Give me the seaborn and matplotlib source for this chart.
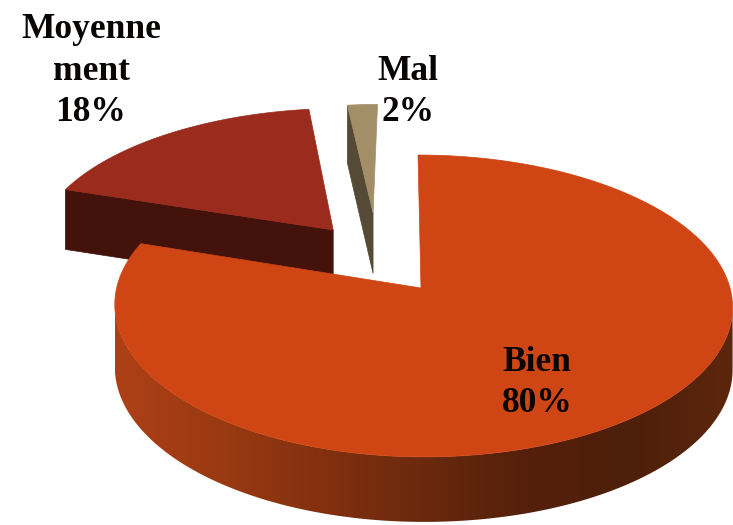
import numpy as np
import matplotlib
matplotlib.use('Agg')
import matplotlib.pyplot as plt
from matplotlib.patches import Polygon
import seaborn as sns

# values
labels = ['Bien', 'Moyenne\nment', 'Mal']
values = [80, 18, 2]

# look of the slices
top_colors = ['#CF4513', '#9B2B1C', '#A28F68']
wall_colors = [None, '#43120A', '#544A36']
side_stops = ['#AE4016', '#9A3A12', '#83300F', '#6A290D', '#54200B', '#4E1F0A', '#5C260C']

# 3d look, offsets are on the unit disc
cx, cy = 421, 288
rx, ry = 309, 148.8
persp = 0.119
offsets = [(0, 0), (-0.298, 0.409), (-0.165, 0.536)]
radii = [1, 1, 0.91]
label_pos = [(537, 383), (91, 71), (408, 92)]

sns.set_theme(style='white')
plt.rcParams['font.family'] = ['Liberation Serif', 'DejaVu Serif']


def project(u, v, low=False, big=False):
    s = 1 + persp * v
    if big:
        # the big slice leans a little and is narrower on the left
        u = np.where(u < 0, u * 0.985, u)
    x = cx + rx * u / s
    if big:
        x = x - 3 * v
    y = cy - ry * v / s
    if low:
        y = y + 62 - 3 * v
    return x, y


def disc_point(angle, i):
    return offsets[i][0] + radii[i] * np.sin(angle), offsets[i][1] + radii[i] * np.cos(angle)


fig = plt.figure(figsize=(7.33, 5.25), dpi=100)
ax = fig.add_axes([0, 0, 1, 1])

edges = np.radians(np.cumsum([0] + values) / sum(values) * 360)

# back slices first, the wall is the radial side that faces the viewer
for i in [2, 1]:
    u0, v0 = offsets[i]
    u1, v1 = disc_point(edges[i], i)
    top_a = project(u0, v0)
    top_b = project(u1, v1)
    low_a = project(u0, v0, low=True)
    low_b = project(u1, v1, low=True)
    ax.fill([top_a[0], top_b[0], low_b[0], low_a[0]],
            [top_a[1], top_b[1], low_b[1], low_a[1]],
            color=wall_colors[i], lw=0.5)
    t = np.linspace(edges[i], edges[i + 1], 60)
    u, v = disc_point(t, i)
    x, y = project(np.r_[u0, u], np.r_[v0, v])
    ax.fill(x, y, color=top_colors[i], lw=0.5)

# round side of the big slice, shaded left to right
# only the arc between the widest points, else the band crosses itself
t = np.linspace(np.radians(60), edges[1], 400)
u, v = disc_point(t, 0)
xt, yt = project(u, v, big=True)
first, last = xt.argmax(), xt.argmin()
xt, yt = xt[first:last + 1], yt[first:last + 1]
xb, yb = project(u[first:last + 1], v[first:last + 1], low=True, big=True)
side = Polygon(np.c_[np.r_[xt, xb[::-1]], np.r_[yt, yb[::-1]]], closed=True,
               transform=ax.transData, fc='none', ec='none')
ax.add_patch(side)
side_cmap = sns.blend_palette(side_stops, as_cmap=True)
ax.imshow(np.linspace(0, 1, 256).reshape(1, -1), cmap=side_cmap, aspect='auto',
          extent=(xt.min(), xt.max(), 525, 0), clip_path=side, zorder=1.5)

t = np.linspace(edges[0], edges[1], 300)
u, v = disc_point(t, 0)
x, y = project(np.r_[0, u], np.r_[0, v], big=True)
ax.fill(x, y, color=top_colors[0], lw=0.5, zorder=2)

for i, name in enumerate(labels):
    ax.text(label_pos[i][0], label_pos[i][1], f'{name}\n{values[i]}%',
            ha='center', va='center', fontsize=25.5, fontweight='bold',
            color='#0a0505', linespacing=1.35, multialignment='center', zorder=3)

ax.set_xlim(0, 733)
ax.set_ylim(525, 0)
ax.axis('off')

fig.savefig('out.png', dpi=100)
